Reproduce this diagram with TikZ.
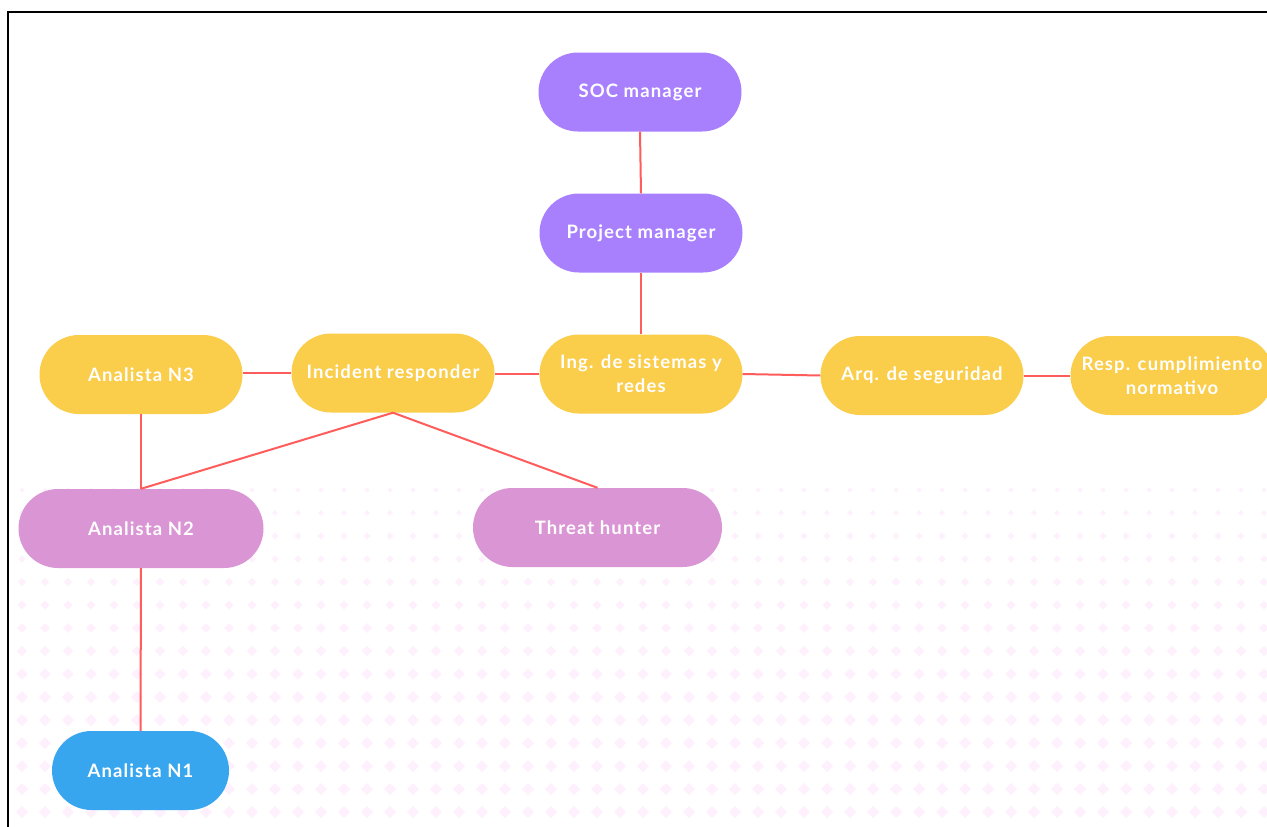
\documentclass[tikz,border=0pt]{standalone}
\usepackage{fontspec}
\newfontfamily\labelfont[LetterSpace=6]{Lato}
\definecolor{rolepurple}{HTML}{A880FE}
\definecolor{roleyellow}{HTML}{FACD4B}
\definecolor{roleorchid}{HTML}{DA95D5}
\definecolor{roleblue}{HTML}{37A6EF}
\definecolor{linkred}{HTML}{FF5C5C}
\definecolor{dotpink}{HTML}{FEF0FC}
\tikzset{
  role/.style={rectangle, rounded corners=39.5pt, minimum height=79pt,
    inner sep=0pt, text=white, align=center,
    font=\labelfont\bfseries\fontsize{18.5}{24}\selectfont},
  purplebox/.style={role, fill=rolepurple, minimum width=203pt},
  yellowbox/.style={role, fill=roleyellow, minimum width=203pt},
  orchidbox/.style={role, fill=roleorchid},
  bluebox/.style={role, fill=roleblue},
  link/.style={draw=linkred, line width=2pt},
  frameline/.style={draw=black, line width=2.5pt}
}
\begin{document}
\begin{tikzpicture}[x=1pt, y=-1pt]
  \useasboundingbox (0,0) rectangle (1267,827);
  \clip (0,0) rectangle (1267,827);
  \fill[white] (0,0) rectangle (1267,827);

  % diamond dot grid, growing towards the bottom
  \foreach \k in {0,...,14}{
    \pgfmathsetmacro\yy{490+23*\k}
    \pgfmathsetmacro\rr{min(6,2.5+0.017*(\yy-490))}
    \foreach \j in {0,...,54}{
      \fill[dotpink] ({22+23*\j-\rr},\yy) -- ++(\rr,\rr) -- ++(\rr,-\rr)
        -- ++(-\rr,-\rr) -- cycle;
    }
  }

  % frame
  \draw[frameline] (8,830) -- (8,12) -- (1270,12);

  % roles
  \node[purplebox] (soc) at (640,92) {SOC manager};
  \node[purplebox] (pm) at (641,233) {Project manager};
  \node[yellowbox] (ing) at (641,374) {Ing. de sistemas y\\redes};
  \node[yellowbox] (arq) at (922,375.5) {Arq. de seguridad};
  \node[yellowbox] (resp) at (1172,375.5) {Resp. cumplimiento\\normativo};
  \node[yellowbox] (n3) at (141,374.5) {Analista N3};
  \node[yellowbox] (ir) at (393,373) {Incident responder};
  \node[orchidbox, minimum width=245pt] (n2) at (141,528.5) {Analista N2};
  \node[orchidbox, minimum width=249pt] (th) at (597.5,527.5) {Threat hunter};
  \node[bluebox, minimum width=177pt] (n1) at (140.5,770.5) {Analista N1};

  % reporting lines
  \draw[link] (soc.south) -- (pm.north);
  \draw[link] (pm.south) -- (ing.north);
  \draw[link] (ing.west) -- (ir.east |- ing.west);
  \draw[link] (ir.west) -- (n3.east |- ir.west);
  \draw[link] (ing.east) -- (arq.west);
  \draw[link] (arq.east) -- (resp.west);
  \draw[link] (n3.south) -- (n2.north);
  \draw[link] (ir.south) -- (n2.north);
  \draw[link] (ir.south) -- (th.north);
  \draw[link] (n2.south) -- (n1.north);
\end{tikzpicture}
\end{document}
